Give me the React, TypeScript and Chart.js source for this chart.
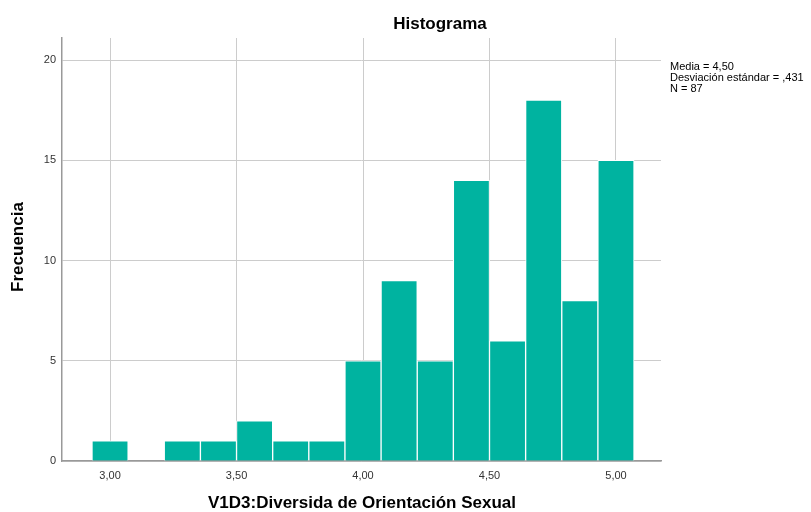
import React, { useEffect, useRef } from "react";
import { Chart, registerables } from "chart.js";

Chart.register(...registerables);

const binCenters = [3.0, 3.142857, 3.285714, 3.428571, 3.571429, 3.714286, 3.857143, 4.0, 4.142857, 4.285714, 4.428571, 4.571429, 4.714286, 4.857143, 5.0];
const frequencies = [1, 0, 1, 1, 2, 1, 1, 5, 9, 5, 14, 6, 18, 8, 15];
const xTicks = [3.0, 3.5, 4.0, 4.5, 5.0];
const yTicks = [0, 5, 10, 15, 20];
const chartTitle = "Histograma";
const xTitle = "V1D3:Diversida de Orientación Sexual";
const yTitle = "Frecuencia";
const statsLines = ["Media = 4,50", "Desviación estándar = ,431", "N = 87"];

const FONT = "'Liberation Sans', Arial, sans-serif";

export default function App() {
  const ref = useRef<HTMLCanvasElement>(null);
  useEffect(() => {
    if (!ref.current) return;
    const textPlugin = {
      id: "texts",
      afterDraw(chart: any) {
        const ctx = chart.ctx;
        ctx.save();
        ctx.fillStyle = "#000";
        ctx.font = `bold 17px ${FONT}`;
        ctx.textAlign = "center";
        ctx.textBaseline = "middle";
        ctx.fillText(chartTitle, 440, 24);
        ctx.fillText(xTitle, 362, 503);
        ctx.save();
        ctx.translate(18, 247);
        ctx.rotate(-Math.PI / 2);
        ctx.fillText(yTitle, 0, 0);
        ctx.restore();
        ctx.font = `11px ${FONT}`;
        ctx.textAlign = "left";
        ctx.textBaseline = "top";
        statsLines.forEach((l, i) => ctx.fillText(l, 670, 61 + i * 11));
        ctx.restore();
      },
    };
    const chart = new Chart(ref.current, {
      type: "bar",
      data: {
        datasets: [
          {
            data: binCenters.map((x, i) => ({ x, y: frequencies[i] })),
            backgroundColor: "#00b3a0",
            borderColor: "#ffffff",
            borderWidth: 1,
            barPercentage: 1,
            categoryPercentage: 1,
          },
        ],
      },
      options: {
        animation: false,
        responsive: false,
        maintainAspectRatio: false,
        layout: { padding: { top: 38, right: 150, left: 0, bottom: 0 } },
        plugins: { legend: { display: false }, tooltip: { enabled: false }, title: { display: false } },
        scales: {
          x: {
            type: "linear",
            offset: false,
            min: 2.81,
            max: 5.178,
            afterBuildTicks: (s: any) => {
              s.ticks = xTicks.map((v) => ({ value: v }));
            },
            afterFit: (s: any) => {
              s.height = 51;
            },
            grid: { color: "#cccccc", drawTicks: false, lineWidth: 1, offset: false },
            border: { display: true, color: "#999999", width: 1.5 },
            ticks: {
              padding: 8,
              color: "#333333",
              font: { family: FONT, size: 11 },
              callback: (v: any) => Number(v).toFixed(2).replace(".", ","),
              maxRotation: 0,
            },
          },
          y: {
            type: "linear",
            min: 0,
            max: 21.1,
            afterBuildTicks: (s: any) => {
              s.ticks = yTicks.map((v) => ({ value: v }));
            },
            afterFit: (s: any) => {
              s.width = 62;
            },
            grid: { color: "#cccccc", drawTicks: false, lineWidth: 1 },
            border: { display: true, color: "#999999", width: 1.5 },
            ticks: {
              padding: 6,
              color: "#333333",
              font: { family: FONT, size: 11 },
            },
          },
        },
      },
      plugins: [textPlugin],
    });
    return () => chart.destroy();
  }, []);
  return (
    <div style={{ position: "absolute", left: 0, top: 0, width: 811, height: 512, background: "#fff" }}>
      <canvas ref={ref} width={811} height={512} style={{ width: 811, height: 512 }} />
    </div>
  );
}
